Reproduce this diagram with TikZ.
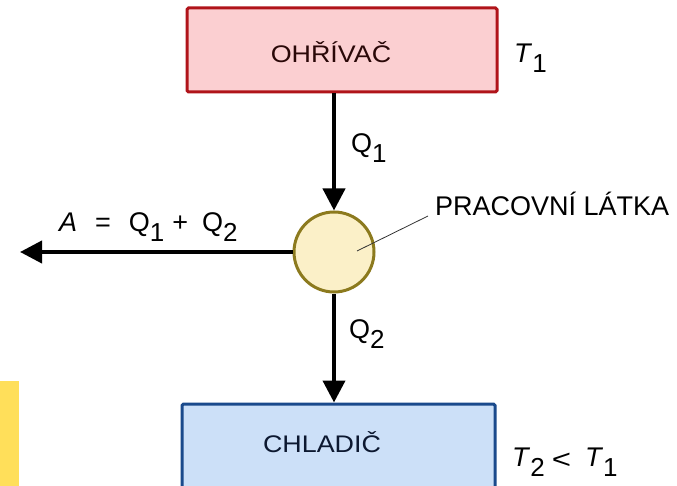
\documentclass[tikz,border=0pt]{standalone}
\usepackage{fontspec}
\setmainfont{Liberation Sans}
\usetikzlibrary{arrows.meta}
\definecolor{heatfill}{HTML}{FBCFD1}
\definecolor{heatdraw}{HTML}{B0141A}
\definecolor{heattext}{HTML}{2A0808}
\definecolor{coldfill}{HTML}{CCE0F8}
\definecolor{colddraw}{HTML}{1A4A8C}
\definecolor{coldtext}{HTML}{0C1830}
\definecolor{bodyfill}{HTML}{FBF0C8}
\definecolor{bodydraw}{HTML}{8C7A1E}
\definecolor{sideyellow}{HTML}{FFDF5A}
\newcommand{\lowsub}[1]{\raisebox{-10pt}{\fontsize{26}{26}\selectfont #1}}
\tikzset{
  reservoir/.style={draw, line width=3pt, rounded corners=1.5pt, minimum height=84pt, inner sep=0pt},
  flow/.style={line width=4pt, -{Triangle[length=22pt,width=22pt]}},
  lbl/.style={anchor=base west, inner sep=0pt, font=\fontsize{27}{27}\selectfont},
  boxtext/.style={inner sep=0pt, font=\fontsize{24}{24}\selectfont, xscale=1.12}
}
\begin{document}
\begin{tikzpicture}[x=1pt,y=-1pt]
\useasboundingbox (0,0) rectangle (677,486);
\clip (0,0) rectangle (677,486);
\fill[sideyellow] (0,381) rectangle (19,490);
% top reservoir
\node[reservoir, fill=heatfill, draw=heatdraw, minimum width=310pt] (hot) at (342,50) {};
\node[boxtext, text=heattext] (hotlbl) at (331,52) {OHŘÍVAČ};
\node[lbl] (t1) at (514,63) {\textit{T}\lowsub{1}};
% working body
\node[circle, draw=bodydraw, fill=bodyfill, line width=3pt, minimum size=80pt, inner sep=0pt] (body) at (334,252) {};
% bottom reservoir
\node[reservoir, fill=coldfill, draw=colddraw, minimum width=313pt, minimum height=100pt] (cold) at (338.5,454) {};
\node[boxtext, text=coldtext] (coldlbl) at (322,442) {CHLADIČ};
\node[lbl] (t2) at (512,466) {\textit{T}\lowsub{2}\hspace{7pt}\raisebox{-2pt}{\scalebox{1.5}[1.2]{\fontsize{22}{22}\selectfont <}}\hspace{14pt}\textit{T}\lowsub{1}};
% arrows
\coordinate (hotout) at (hot.south -| body.north);
\draw[flow] (hotout) -- (body.north);
\coordinate (coldin) at (cold.north -| body.south);
\draw[flow] (body.south) -- (coldin);
\coordinate (workend) at (20,252);
\draw[flow] (body.west) -- (workend);
% labels
\node[lbl] (q1) at (351,153) {Q\lowsub{1}};
\node[lbl] (q2) at (349,338) {Q\lowsub{2}};
\node[lbl] (work) at (59,232) {\textit{A}\hspace{18pt}=\hspace{18pt}Q\lowsub{1}\hspace{8pt}+\hspace{14pt}Q\lowsub{2}};
% leader
\coordinate (leadstart) at (357,251);
\node[lbl] (substance) at (435,216) {PRACOVNÍ LÁTKA};
\draw[line width=0.8pt, black!80] (leadstart) -- (428,216);
\end{tikzpicture}
\end{document}
